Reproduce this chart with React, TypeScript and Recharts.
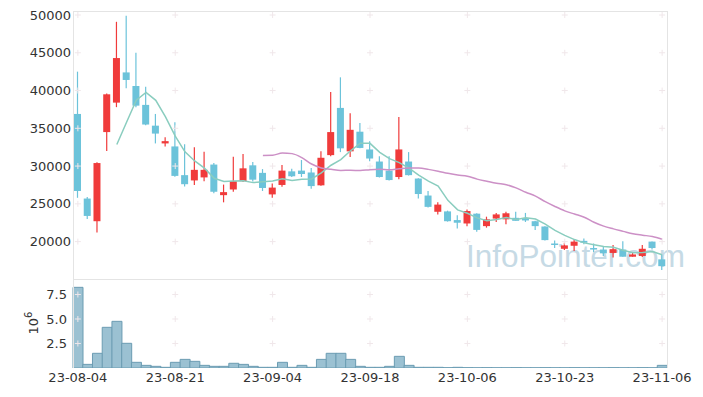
import { ComposedChart, Bar, Line, XAxis, YAxis, ReferenceDot } from "recharts"

const dates = [
  "23-08-04", "23-08-07", "23-08-08", "23-08-09", "23-08-10", "23-08-11", "23-08-14", "23-08-16", "23-08-17", "23-08-18",
  "23-08-21", "23-08-22", "23-08-23", "23-08-24", "23-08-25", "23-08-28", "23-08-29", "23-08-30", "23-08-31", "23-09-01",
  "23-09-04", "23-09-05", "23-09-06", "23-09-07", "23-09-08", "23-09-11", "23-09-12", "23-09-13", "23-09-14", "23-09-15",
  "23-09-18", "23-09-19", "23-09-20", "23-09-21", "23-09-22", "23-09-25", "23-09-26", "23-09-27", "23-10-04", "23-10-05",
  "23-10-06", "23-10-10", "23-10-11", "23-10-12", "23-10-13", "23-10-16", "23-10-17", "23-10-18", "23-10-19", "23-10-20",
  "23-10-23", "23-10-24", "23-10-25", "23-10-26", "23-10-27", "23-10-30", "23-10-31", "23-11-01", "23-11-02", "23-11-03",
  "23-11-06",
]

const opens = [
  36900, 25700, 22700, 34500, 38400, 42400, 40600, 38100, 35350, 33000,
  32600, 28800, 28100, 28500, 30200, 26150, 26900, 28000, 30100, 29100,
  26250, 27500, 29300, 29400, 29150, 27450, 31450, 37700, 31950, 34550,
  32200, 30600, 29400, 28550, 30600, 28350, 26100, 23950, 24000, 22850,
  22400, 23700, 22050, 23050, 22950, 23150, 23100, 22700, 22000, 19750,
  19050, 19450, 20100, 19150, 18950, 18500, 18950, 18000, 18100, 20000,
  17650,
]

const highs = [
  42500, 25900, 30500, 39600, 49100, 49900, 45000, 40500, 36900, 33800,
  35800, 32900, 32500, 31900, 30400, 27550, 31250, 31600, 30550, 29600,
  27700, 30150, 29650, 30800, 29750, 31950, 39800, 41750, 37000, 35700,
  33300, 31300, 31300, 36500, 31850, 28400, 26700, 25200, 24100, 23500,
  24250, 23750, 23300, 23800, 23950, 23950, 23800, 22750, 22050, 20150,
  19850, 20300, 20400, 19750, 19300, 19550, 20050, 18600, 19550, 20000,
  18250,
]

const lows = [
  25800, 23000, 21200, 32000, 37800, 40300, 37800, 35400, 33000, 32600,
  28600, 27300, 27500, 28000, 26400, 25200, 26600, 27900, 27950, 26700,
  25800, 27250, 28550, 28550, 27000, 27400, 31300, 31850, 31200, 32350,
  30650, 28500, 28100, 28250, 28750, 25700, 24500, 23600, 22650, 21750,
  22050, 21300, 21850, 22600, 22300, 22750, 22600, 21550, 20150, 19150,
  18900, 18750, 19650, 18600, 18100, 17900, 18000, 18000, 17950, 18950,
  16250,
]

const closes = [
  26700, 23400, 30400, 39500, 44300, 41400, 38000, 35500, 34300, 33300,
  28700, 27600, 29500, 29500, 26600, 26550, 28000, 29700, 28200, 27100,
  27150, 29400, 28650, 28950, 27350, 31100, 34500, 32350, 34800, 32400,
  31000, 28550, 28150, 32200, 28800, 26300, 24600, 24900, 22700, 22500,
  24050, 21550, 22950, 23600, 23750, 22750, 22800, 22050, 20200, 19600,
  19500, 20000, 19850, 18950, 18450, 19000, 18000, 18300, 19050, 19150,
  16750,
]

// volume, in 10^6 shares
const volumes = [
  8.23, 0.37, 1.5, 4.15, 4.76, 2.52, 0.58, 0.27, 0.17, 0.07,
  0.58, 0.88, 0.68, 0.27, 0.17, 0.17, 0.48, 0.37, 0.17, 0.07,
  0.07, 0.58, 0.07, 0.27, 0.07, 0.88, 1.5, 1.5, 0.88, 0.17,
  0.07, 0.07, 0.17, 1.19, 0.27, 0.07, 0.07, 0.07, 0.03, 0.07,
  0.03, 0.02, 0.03, 0.02, 0.02, 0.03, 0.02, 0.02, 0.03, 0.02,
  0.02, 0.03, 0.02, 0.02, 0.02, 0.03, 0.02, 0.02, 0.03, 0.02,
  0.27,
]

const priceTicks = [20000, 25000, 30000, 35000, 40000, 45000, 50000]
const volumeTicks = [2.5, 5, 7.5]
const dateTicks = [0, 10, 20, 30, 40, 50, 60].map((i) => dates[i])

const RED = "#f03b3b"
const BLUE = "#6cc3da"
const GRID = "#f0e7ea"
const FRAME = "#e4e4e4"

const movingAvg = (n: number) =>
  closes.map((_, i) =>
    i < n - 1 ? null : closes.slice(i - n + 1, i + 1).reduce((a, b) => a + b, 0) / n
  )

const ma5 = movingAvg(5)
const ma20 = movingAvg(20)

const rows = dates.map((date, i) => ({
  date,
  open: opens[i],
  high: highs[i],
  low: lows[i],
  close: closes[i],
  volume: volumes[i],
  ma5: ma5[i],
  ma20: ma20[i],
}))

function Candle(props: any) {
  const { x, y, width, height, payload } = props
  const { open, close, high, low } = payload
  const color = close >= open ? RED : BLUE
  const ratio = high === low ? 0 : height / (high - low)
  const yOf = (v: number) => y + (high - v) * ratio
  const top = yOf(Math.max(open, close))
  const bottom = yOf(Math.min(open, close))
  const cx = x + width / 2
  return (
    <g>
      <line x1={cx} x2={cx} y1={y} y2={y + height} stroke={color} strokeWidth={1.2} />
      <rect x={x} y={top} width={width} height={Math.max(bottom - top, 1.5)} fill={color} />
    </g>
  )
}

const Cross = (p: any) => (
  <path d={`M${p.cx - 3},${p.cy}h6M${p.cx},${p.cy - 3}v6`} stroke={GRID} strokeWidth={1} fill="none" />
)

const tickStyle = { fill: "#333", fontSize: 13 }

export default function App() {
  return (
    <div
      style={{
        position: "absolute",
        left: 0,
        top: 0,
        width: 703,
        height: 397,
        background: "#fff",
        fontFamily: "'DejaVu Sans', sans-serif",
      }}
    >
      <svg width={703} height={397} style={{ position: "absolute", left: 0, top: 0 }}>
        <text x={466} y={267} fontSize={31.5} fill="#c6dae5" fontFamily="'Liberation Sans', Arial, sans-serif">
          InfoPointer.com
        </text>
        <text transform="translate(38,323) rotate(-90)" textAnchor="middle" fontSize={13} fill="#333">
          10<tspan dy={-6} fontSize={10}>6</tspan>
        </text>
      </svg>

      <div style={{ position: "absolute", left: 0, top: 0 }}>
        <ComposedChart width={703} height={279} data={rows} margin={{ top: 11, right: 36, bottom: 0, left: 0 }}>
          <XAxis dataKey="date" hide />
          <YAxis
            domain={[15050, 50530]}
            ticks={priceTicks}
            allowDataOverflow
            width={73}
            axisLine={false}
            tickLine={false}
            tickSize={0}
            tickMargin={2}
            tick={tickStyle}
          />
          {dateTicks.map((d) =>
            priceTicks.map((v) => (
              <ReferenceDot key={d + v} x={d} y={v} r={0} shape={Cross} />
            ))
          )}
          <Bar dataKey={(d: any) => [d.low, d.high]} barSize={7} shape={Candle} isAnimationActive={false} />
          <Line dataKey="ma5" type="linear" stroke="#8acdbf" strokeWidth={1.5} dot={false} isAnimationActive={false} />
          <Line dataKey="ma20" type="monotone" stroke="#cc90c6" strokeWidth={1.5} dot={false} isAnimationActive={false} />
        </ComposedChart>
      </div>

      <div style={{ position: "absolute", left: 0, top: 279 }}>
        <ComposedChart
          width={703}
          height={118}
          data={rows}
          barCategoryGap={0}
          margin={{ top: 0, right: 36, bottom: 0, left: 0 }}
        >
          <XAxis
            dataKey="date"
            interval={9}
            height={29}
            axisLine={false}
            tickLine={false}
            tickSize={0}
            tickMargin={5}
            tick={tickStyle}
          />
          <YAxis
            domain={[0, 9.08]}
            ticks={volumeTicks}
            allowDataOverflow
            width={73}
            axisLine={false}
            tickLine={false}
            tickSize={0}
            tickMargin={6}
            tick={tickStyle}
            tickFormatter={(v: number) => v.toFixed(1)}
          />
          {dateTicks.map((d) =>
            volumeTicks.map((v) => (
              <ReferenceDot key={d + v} x={d} y={v} r={0} shape={Cross} />
            ))
          )}
          <Bar dataKey="volume" fill="#9bc1d2" stroke="#6b9cb2" strokeWidth={1} isAnimationActive={false} />
        </ComposedChart>
      </div>

      <div
        style={{
          position: "absolute",
          left: 73,
          top: 11,
          width: 595,
          height: 357,
          borderLeft: `1px solid ${FRAME}`,
          borderTop: `1px solid ${FRAME}`,
          borderRight: `1px solid ${FRAME}`,
          boxSizing: "border-box",
          pointerEvents: "none",
        }}
      />
      <div
        style={{
          position: "absolute",
          left: 73,
          top: 279,
          width: 595,
          height: 1,
          background: FRAME,
          pointerEvents: "none",
        }}
      />
    </div>
  )
}
